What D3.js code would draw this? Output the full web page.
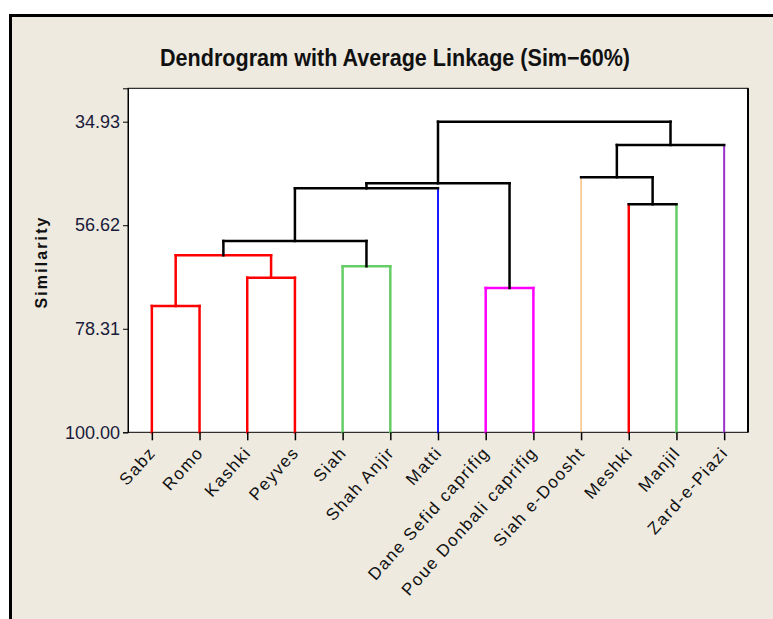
<!DOCTYPE html>
<html>
<head>
<meta charset="utf-8">
<script src="https://cdn.jsdelivr.net/npm/d3@7"></script>
<style>
  html, body { margin: 0; padding: 0; background: #ffffff; }
  svg { display: block; }
</style>
</head>
<body>
<svg id="chart" width="773" height="619"></svg>
<script>
// ---------- data ----------
const titleText = "Dendrogram with Average Linkage (Sim\u221260%)";
const yLabel = "Similarity";
const leaves = ["Sabz", "Romo", "Kashki", "Peyves", "Siah", "Shah Anjir", "Matti",
  "Dane Sefid caprifig", "Poue Donbali caprifig", "Siah e-Doosht", "Meshki", "Manjil", "Zard-e-Piazi"];
// final partition (Sim 60%) cluster of every leaf
const leafCluster = [1, 1, 1, 1, 2, 2, 3, 4, 4, 5, 6, 7, 8];
// merges: node ids 0..12 are leaves, merge k gets id 13+k
const mergeLeft  = [0, 2, 4, 13, 16, 7, 10, 17, 20, 9, 22, 21];
const mergeRight = [1, 3, 5, 14, 15, 8, 11, 6, 18, 19, 12, 23];
const mergeSim   = [73.54, 67.61, 65.22, 62.92, 59.92, 69.77, 52.23, 48.88, 47.83, 46.57, 39.81, 34.93];
const yTicks = [34.93, 56.62, 78.31, 100.00];

// ---------- styles ----------
const clusterColor = {0: "#000000", 1: "#ff0000", 2: "#66cc66", 3: "#0000ff", 4: "#ff00ff",
  5: "#f0a040", 6: "#ff0000", 7: "#66cc66", 8: "#9933cc"};
const clusterWidth = {0: 2.5, 1: 2.5, 2: 2.5, 3: 1.8, 4: 2.5, 5: 1, 6: 2.5, 7: 2.5, 8: 2};

const svg = d3.select("#chart");
const W = 773, H = 619;
const plot = {left: 128, right: 748, top: 88.3, bottom: 432.3};

svg.append("rect").attr("x", 0).attr("y", 0).attr("width", W).attr("height", H).attr("fill", "#ffffff");
// outer frame
svg.append("rect").attr("x", 10.5).attr("y", 15.5).attr("width", 820).attr("height", 700)
  .attr("fill", "#eeeae0").attr("stroke", "#000").attr("stroke-width", 3);

// plot area
svg.append("rect").attr("x", plot.left).attr("y", plot.top)
  .attr("width", plot.right - plot.left).attr("height", plot.bottom - plot.top)
  .attr("fill", "#ffffff").attr("stroke", "#000").attr("stroke-width", 1);
svg.append("line").attr("x1", plot.right).attr("x2", plot.right).attr("y1", plot.top).attr("y2", plot.bottom)
  .attr("stroke", "#000").attr("stroke-width", 2);

const x = d3.scalePoint().domain(d3.range(leaves.length)).range([plot.left, plot.right]).padding(0.5);
const slope = (plot.bottom - 121.7) / (100 - 34.93);
const yTop = 100 - (plot.bottom - plot.top) / slope;
const y = d3.scaleLinear().domain([100, yTop]).range([plot.bottom, plot.top]);

// ---------- dendrogram ----------
const nLeaves = leaves.length;
const nodeX = [], nodeH = [], nodeC = [];
leaves.forEach((_, i) => { nodeX[i] = x(i); nodeH[i] = 100; nodeC[i] = leafCluster[i]; });
mergeSim.forEach((s, k) => {
  const id = nLeaves + k, a = mergeLeft[k], b = mergeRight[k];
  nodeX[id] = (nodeX[a] + nodeX[b]) / 2;
  nodeH[id] = s;
  nodeC[id] = (nodeC[a] === nodeC[b]) ? nodeC[a] : 0;
});

const segs = [];
mergeSim.forEach((s, k) => {
  const id = nLeaves + k, c = nodeC[id];
  [mergeLeft[k], mergeRight[k]].forEach(ch => {
    const cc = ch < nLeaves ? nodeC[ch] : c;
    segs.push({x1: nodeX[ch], x2: nodeX[ch], y1: y(s), y2: y(nodeH[ch]), c: cc});
  });
  segs.push({x1: nodeX[mergeLeft[k]], x2: nodeX[mergeRight[k]], y1: y(s), y2: y(s), c: c});
});

svg.append("g").selectAll("line").data(segs).join("line")
  .attr("x1", d => d.x1).attr("x2", d => d.x2).attr("y1", d => d.y1).attr("y2", d => d.y2)
  .attr("stroke", d => clusterColor[d.c]).attr("stroke-width", d => clusterWidth[d.c])
  .attr("stroke-linecap", "square");

// ---------- axes ----------
const yAxis = d3.axisLeft(y).tickValues(yTicks).tickFormat(d3.format(".2f")).tickSize(5).tickPadding(3);
const gy = svg.append("g").attr("transform", `translate(${plot.left},0)`).call(yAxis);
gy.select(".domain").attr("stroke", "#000");
gy.selectAll("text").attr("font-family", "Liberation Sans, Arial, sans-serif").attr("font-size", 18)
  .attr("fill", "#1a1a3a");

const xAxis = d3.axisBottom(x).tickSize(8).tickFormat(i => leaves[i]);
const gx = svg.append("g").attr("transform", `translate(0,${plot.bottom})`).call(xAxis);
gx.select(".domain").remove();
gx.selectAll(".tick line").attr("stroke-width", 1.5);
gx.selectAll("text")
  .attr("font-family", "Liberation Sans, Arial, sans-serif").attr("font-size", 17)
  .attr("letter-spacing", 1.5)
  .attr("fill", "#111")
  .attr("text-anchor", "end")
  .attr("x", 0).attr("y", 0).attr("dy", "0.35em")
  .attr("transform", "translate(0,17) rotate(-48)");

// y axis title
svg.append("text").attr("transform", "translate(47,263) rotate(-90)")
  .attr("text-anchor", "middle").attr("font-family", "Liberation Sans, Arial, sans-serif")
  .attr("font-weight", "bold").attr("font-size", 16).attr("fill", "#111")
  .attr("textLength", 91).attr("lengthAdjust", "spacing")
  .text(yLabel);

// title
svg.append("text").attr("x", 395).attr("y", 66).attr("text-anchor", "middle")
  .attr("font-family", "Liberation Sans, Arial, sans-serif").attr("font-weight", "bold")
  .attr("font-size", 23).attr("fill", "#111")
  .attr("textLength", 470).attr("lengthAdjust", "spacingAndGlyphs")
  .text(titleText);
</script>
</body>
</html>
